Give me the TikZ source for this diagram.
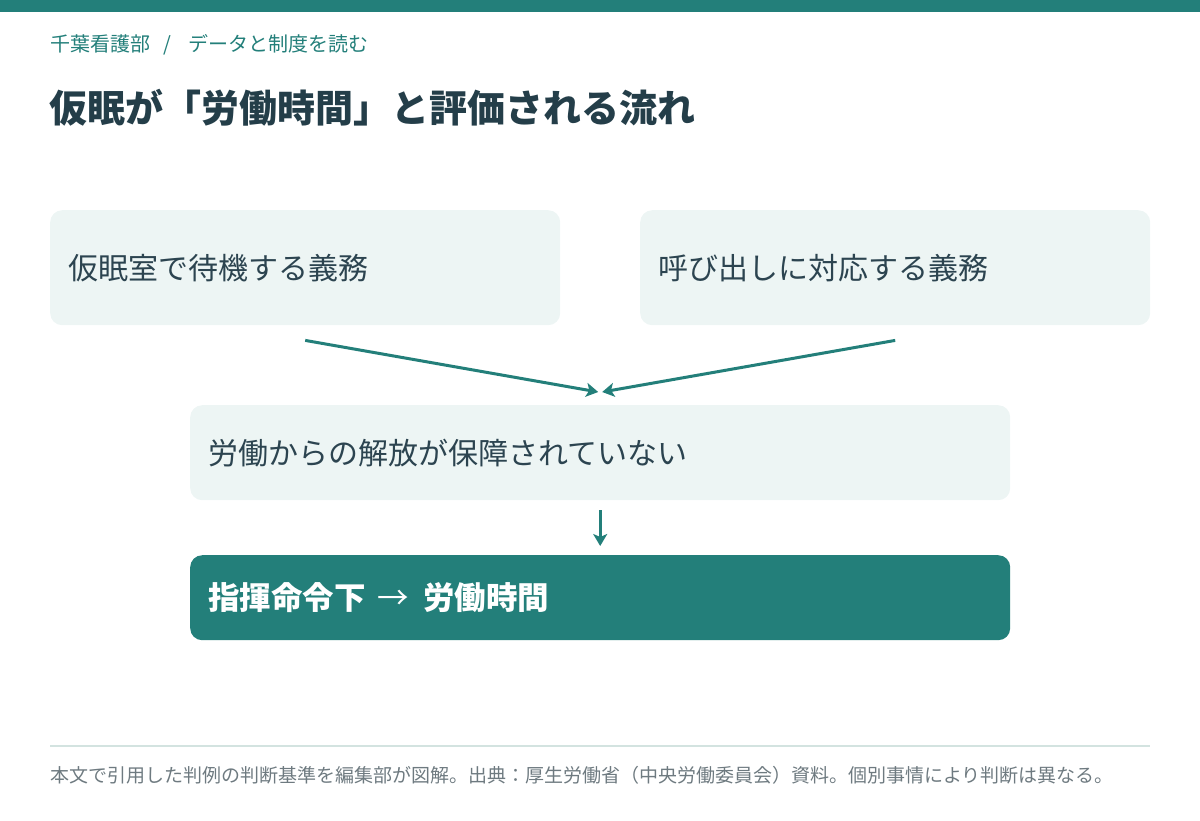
\documentclass[tikz,border=0pt]{standalone}
\usepackage{fontspec}
\setmainfont{Noto Sans CJK JP}
\usetikzlibrary{calc,arrows.meta}
\definecolor{teal1}{HTML}{237F7A}
\definecolor{boxbg}{HTML}{EDF5F4}
\definecolor{inktxt}{HTML}{2C4450}
\definecolor{headtxt}{HTML}{243E49}
\definecolor{foottxt}{HTML}{6E7A80}
\definecolor{rulecol}{HTML}{D3E3E0}
\tikzset{
  flowbox/.style={rounded corners=12pt, fill=boxbg, text=inktxt, anchor=north west,
    align=left, inner xsep=18pt, inner ysep=0pt, font=\fontsize{30}{36}\selectfont},
  flowarr/.style={draw=teal1, line width=3pt, -{Stealth[length=12pt,width=14pt,inset=3pt]}}
}

\begin{document}
\begin{tikzpicture}[x=1pt,y=-1pt]
			%%%%% START %%%%%
			\useasboundingbox (0,0) rectangle (1200,820);
			\fill[teal1] (0,0) rectangle (1200,12);
			
			\node[anchor=west, text=teal1, inner sep=0pt, font=\fontsize{20}{24}\selectfont] (crumb) at (50,45) {千葉看護部\hspace{13pt}/\hspace{17pt}データと制度を読む};
			\node[anchor=west, text=headtxt, inner sep=0pt, font=\fontsize{38}{44}\selectfont\bfseries] (title) at (49,108) {仮眠が「労働時間」と評価される流れ};
			
			\node[flowbox, text width=474pt, minimum height=115pt] (sleep) at (50,210) {仮眠室で待機する義務};
			\node[flowbox, text width=474pt, minimum height=115pt] (call) at (640,210) {呼び出しに対応する義務};
			\node[flowbox, text width=784pt, minimum height=95pt] (free) at (190,405) {労働からの解放が保障されていない};
			\node[flowbox, fill=teal1, text=white, text width=784pt, minimum height=85pt, font=\fontsize{31.5}{36}\selectfont\bfseries] (order) at (190,555) {指揮命令下\hspace{12pt}{\mdseries →}\hspace{14pt}労働時間};
			
			\coordinate (join) at ($(free.north)+(0,-13)$);
			\draw[flowarr] ($(sleep.south)+(0,15)$) -- ($(join)+(-2,0)$);
			\draw[flowarr] ($(call.south)+(0,15)$) -- ($(join)+(2,0)$);
			\draw[flowarr] ($(free.south)+(0,10)$) -- ($(order.north)+(0,-9)$);
			
			\draw[rulecol, line width=2pt] (50,746) -- (1150,746);
			\node[anchor=west, text=foottxt, inner sep=0pt, font=\fontsize{19}{22}\selectfont] (note) at (50,775) {本文で引用した判例の判断基準を編集部が図解。出典：厚生労働省（中央労働委員会）資料。個別事情により判断は異なる。};
			%%%%% END %%%%%
\end{tikzpicture}
\end{document}
